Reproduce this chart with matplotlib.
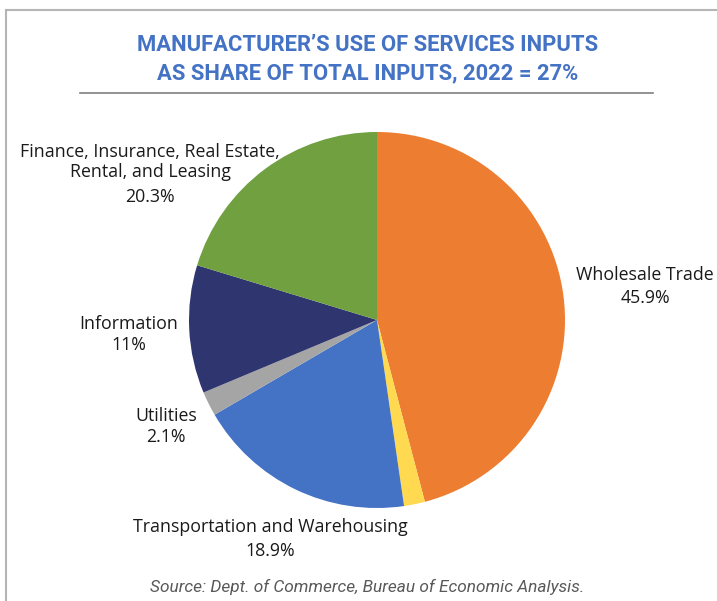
import matplotlib.pyplot as plt
from matplotlib.lines import Line2D

# services inputs by sector, share of total (%), clockwise from the top
sectors = ["Wholesale Trade", "Other", "Transportation and Warehousing",
           "Utilities", "Information",
           "Finance, Insurance, Real Estate,\nRental, and Leasing"]
shares = [45.9, 1.8, 18.9, 2.1, 11.0, 20.3]
share_labels = ["45.9%", None, "18.9%", "2.1%", "11%", "20.3%"]
colors = ["#ED7D31", "#FFD94F", "#4472C4", "#A5A5A5", "#2F356F", "#70A040"]

W, H = 717, 601
fig = plt.figure(figsize=(W / 100, H / 100), dpi=100)

def px(x, y):
    # pixel position (from top left) -> figure fraction
    return x / W, 1 - y / H

# pie centred at (377, 320) px, radius 188 px
cx, cy, r = 377, 320, 188
ax = fig.add_axes([(cx - r) / W, (H - cy - r) / H, 2 * r / W, 2 * r / H])
ax.pie(shares, colors=colors, startangle=90, counterclock=False,
       wedgeprops=dict(linewidth=0))
ax.set_xlim(-1, 1)
ax.set_ylim(-1, 1)
ax.set_aspect("equal")
ax.axis("off")

# frame and title rule
fig.add_artist(Line2D([px(6, 0)[0], px(6, 0)[0]], [px(0, 10)[1], 0],
                      color="#B5B5B5", lw=1.5))
fig.add_artist(Line2D([px(6, 0)[0], 1], [px(0, 10)[1], px(0, 10)[1]],
                      color="#B5B5B5", lw=1.5))
fig.add_artist(Line2D([px(80, 0)[0], px(653, 0)[0]], [px(0, 93)[1], px(0, 93)[1]],
                      color="#7F7F7F", lw=1.2))

title_font = dict(family="Roboto", weight="bold",
                  color="#4472C4", fontsize=15.8, ha="center", va="center")
fig.text(*px(368, 45), "MANUFACTURER\u2019S USE OF SERVICES INPUTS", **title_font)
fig.text(*px(368, 73), "AS SHARE OF TOTAL INPUTS, 2022 = 27%", **title_font)

# slice labels: x centre, y of each name line, y of the percentage
label_font = dict(family="Open Sans", fontsize=12.8, color="#1A1A1A",
                  ha="center", va="center")
label_pos = [(645, [275], 298), None, (270, [527], 551), (166, [416], 437),
             (129, [324], 345), (150, [152, 172], 197)]
for name, lab, pos in zip(sectors, share_labels, label_pos):
    if pos is None:
        continue
    x, name_ys, pct_y = pos
    for line, y in zip(name.split("\n"), name_ys):
        fig.text(*px(x, y), line, **label_font)
    fig.text(*px(x, pct_y), lab, **label_font)

fig.text(*px(367, 587), "Source: Dept. of Commerce, Bureau of Economic Analysis.",
         family="Roboto", style="italic",
         fontsize=12.4, color="#595959", ha="center", va="center")

fig.savefig("out.png", dpi=100, facecolor="white")
